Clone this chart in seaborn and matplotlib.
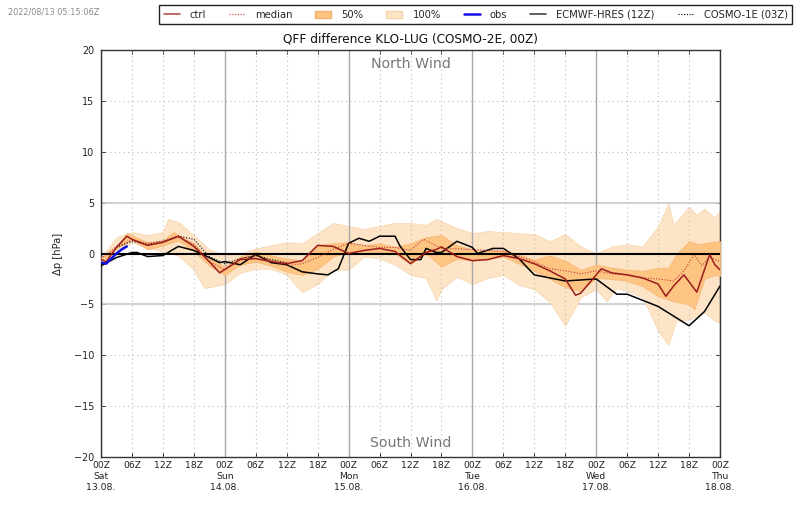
import matplotlib
matplotlib.use("Agg")
import matplotlib.pyplot as plt
from matplotlib.lines import Line2D
from matplotlib.patches import Patch
import numpy as np
import pandas as pd
import seaborn as sns

sns.set_theme(style="white")
plt.rcParams['font.family'] = ['DejaVu Sans']

title = "QFF difference KLO-LUG (COSMO-2E, 00Z)"
stamp = "2022/08/13 05:15:06Z"
x_labels = ["00Z", "06Z", "12Z", "18Z"]
day_labels = [("Sat", "13.08."), ("Sun", "14.08."), ("Mon", "15.08."), ("Tue", "16.08."), ("Wed", "17.08."), ("Thu", "18.08.")]

up100_h = [0,3,6,9,12,13,15,18,21,24,27,30,33,36,39,42,45,48,51,54,57,60,63,65,69,72,75,78,81,84,87,90,93,96,99,102,105,108,110,111,114,115.5,117,119,120]
up100 = [-0.4,1.6,2.1,1.8,2.1,3.4,3.1,1.8,0.4,-0.2,0.0,0.5,0.8,1.1,1.0,2.0,3.0,2.7,2.4,2.7,3.0,3.0,2.8,3.4,2.5,2.0,2.2,2.1,2.0,1.9,1.2,1.9,0.7,0.0,0.7,0.9,0.7,2.7,4.9,2.8,4.6,3.8,4.4,3.5,4.2]
lo100_h = [0,3,6,9,12,15,18,20,21,24,27,30,33,36,39,42,45,48,51,54,57,60,63,65,66,69,72,75,78,81,84,87,90,93,96,98,100,102,105,108,110,111.5,114,117,119,120]
lo100 = [-1.3,0.0,1.1,0.6,0.2,-0.2,-1.6,-3.4,-3.3,-3.0,-1.9,-1.5,-1.5,-2.1,-3.8,-3.0,-1.6,-1.6,-0.3,-0.5,-1.1,-2.1,-2.4,-4.6,-3.5,-2.3,-3.0,-2.4,-2.1,-3.1,-3.5,-4.8,-7.1,-4.3,-3.5,-4.7,-3.4,-3.7,-4.3,-7.6,-9.0,-6.6,-6.5,-5.8,-6.6,-6.8]
up50_h = [0,3,5,9,12,14,18,21,24,27,30,33,36,39,42,45,48,51,54,57,60,63,66,69,72,75,78,81,84,87,90,93,96,99,102,105,108,110,111.5,114,116,118,120]
up50 = [-0.4,0.7,2.0,1.1,1.3,2.1,1.0,-0.5,-1.3,-0.3,0.2,-0.2,-0.5,-0.7,0.8,1.0,1.1,0.8,1.0,0.65,1.0,1.6,1.8,0.8,0.4,0.3,0.3,-0.1,-0.6,-0.2,-0.7,-1.6,-1.1,-1.4,-1.6,-1.7,-1.4,-1.4,-0.1,1.2,0.9,1.1,1.2]
lo50_h = [0,3,6,9,12,15,18,21,24,27,30,33,36,39,42,45,48,51,54,57,60,63,66,69,72,75,78,81,84,87,90,93,96,99,102,105,108,111,114,115,117,119,120]
lo50 = [-0.8,0.5,1.4,0.4,0.8,1.3,0.2,-1.2,-2.1,-1.1,-0.8,-1.2,-1.8,-2.1,-1.5,-0.3,0.15,0.2,0.15,0.0,-1.0,0.0,-1.3,-0.5,-0.7,-0.5,-0.3,-1.0,-1.7,-2.5,-3.3,-3.7,-2.4,-2.5,-2.7,-3.2,-4.2,-4.7,-5.0,-5.5,-2.5,-2.1,-2.2]
ctrl_h = [0,1,3,5,6,9,12,15,18,21,23,27,30,33,36,39,42,45,48,51,54,57,60,63,65,66,69,72,75,78,81,84,87,90,92,93,97,99,102,105,108,109.5,111,113,115.5,118,119,120]
ctrl = [-0.6,-0.8,0.6,1.7,1.4,0.8,1.1,1.7,0.7,-0.8,-1.9,-0.6,-0.5,-0.8,-1.0,-0.7,0.8,0.7,0.0,0.3,0.5,0.2,-1.0,0.1,0.4,0.65,-0.3,-0.7,-0.6,-0.2,-0.5,-1.0,-1.7,-2.5,-4.1,-3.9,-1.5,-1.9,-2.1,-2.4,-3.0,-4.2,-3.2,-2.1,-3.8,-0.1,-1.1,-1.6]
median_h = [0,3,6,9,12,15,18,21,24,27,30,33,36,39,42,45,48,54,57,60,62.5,66,72,78,84,87,90,93,96,99,102,105,108,111,113,115,116.5,118,120]
median = [-0.5,0.7,1.3,1.0,1.2,1.6,0.9,-0.8,-1.6,-0.5,-0.2,-0.7,-1.2,-1.0,-0.4,0.4,1.0,0.6,0.6,0.3,1.4,0.5,0.4,0.2,-0.8,-1.5,-1.7,-2.0,-1.7,-2.0,-2.1,-2.4,-2.5,-2.7,-1.7,-0.1,-1.2,-0.3,-0.8]
ecmwf_h = [0,3,6,7,9,12,15,18,21,23,24,27,30,33,36,39,42,44,46,48,50,52,54,57,58,60,62,63,65,66,69,72,73,76,78,81,84,90,96,100,102,108,114,117,120]
ecmwf = [-1.2,-0.4,0.1,0.1,-0.3,-0.2,0.7,0.3,-0.4,-0.9,-0.8,-1.1,-0.1,-0.9,-1.1,-1.8,-2.0,-2.1,-1.5,1.0,1.5,1.2,1.7,1.7,0.7,-0.6,-0.6,0.5,0.1,0.1,1.2,0.6,0.0,0.5,0.5,-0.5,-2.1,-2.7,-2.5,-4.0,-4.0,-5.2,-7.1,-5.7,-3.2]
obs_h = [0,1,2,3,4,5]
obs = [-0.9,-1.0,-0.5,0.0,0.4,0.7]
cosmo1_h = [3,6,9,12,15,18,21,24,27,30,33,36]
cosmo1 = [0.6,1.2,0.9,1.2,1.7,1.4,-0.3,-1.0,-0.5,-0.2,-0.6,-0.9]

C50 = "#fdc482"
C100 = "#fde4c6"
fig = plt.figure(figsize=(8, 5.09), dpi=100)
ax = fig.add_axes([101/800, 1-457/509, 619/800, 407/509])


def band(hl, l, hu, u, color, ec, z):
    grid = np.array(sorted(set(hl) | set(hu)), dtype=float)
    ax.fill_between(grid, np.interp(grid, hl, l), np.interp(grid, hu, u),
                    facecolor=color, edgecolor=ec, linewidth=0.6, zorder=z)


band(lo100_h, lo100, up100_h, up100, C100, "#f7d8b4", 2)
band(lo50_h, lo50, up50_h, up50, C50, "#f8b878", 3)


def line(h, v, **kw):
    sns.lineplot(data=pd.DataFrame({"h": h, "v": v}), x="h", y="v", estimator=None,
                 sort=False, ax=ax, legend=False, **kw)


ax.axhline(0, color="black", lw=1.5, zorder=4)
line(ecmwf_h, ecmwf, color="black", lw=1.1, zorder=5)
line(cosmo1_h, cosmo1, color="black", lw=0.8, ls=(0, (1, 1.5)), zorder=5)
line(median_h, median, color="#c23a3a", lw=0.8, ls=(0, (1, 1.5)), zorder=6)
line(ctrl_h, ctrl, color="#9c1c1c", lw=1.1, zorder=6)
line(obs_h, obs, color="#1010e0", lw=1.8, zorder=7)

minor = np.arange(0, 121, 6)
ax.set_xlim(0, 120)
ax.set_ylim(-20, 20)
ax.set_xticks(minor)
ax.set_xticklabels([
    x_labels[(h // 6) % 4] + (f"\n{day_labels[h // 24][0]}\n{day_labels[h // 24][1]}" if h % 24 == 0 else "")
    for h in minor], fontsize=6.7, color="#222222", linespacing=1.3)
ax.set_yticks(np.arange(-20, 21, 5))
ax.tick_params(axis="y", labelsize=6.9, length=3, width=0.7, left=True, right=True, direction="in", pad=5, labelcolor="#222222")
ax.tick_params(axis="x", length=3, width=0.7, bottom=True, top=True, direction="in", pad=3)
for v in minor:
    if v % 24 == 0:
        ax.axvline(v, color="#a8a8a8", lw=1.0, zorder=2.5)
    else:
        ax.axvline(v, color="#bbbbbb", lw=0.8, ls=(0, (1, 3)), zorder=2.5)
for v in np.arange(-15, 20, 5):
    if abs(v) == 5:
        ax.axhline(v, color="#c8c8c8", lw=1.2, zorder=1)
    elif v:
        ax.axhline(v, color="#bbbbbb", lw=0.8, ls=(0, (1, 3)), zorder=1)
for s in ax.spines.values():
    s.set_color("#333333")
    s.set_linewidth(1.0)
ax.set_xlabel("")
ax.set_ylabel("Δp [hPa]", fontsize=7.2, color="#222222")
ax.yaxis.set_label_coords(-38/619, 0.5)
ax.set_title(title, fontsize=8.75, pad=5.5, color="#111111")
ax.text(60, 18.6, "North Wind", ha="center", va="center", fontsize=10.2, color="#777777")
ax.text(60, -18.6, "South Wind", ha="center", va="center", fontsize=10.2, color="#777777")
fig.text(8/800, 1-12/509, stamp, fontsize=5.9, color="#888888", va="center")

handles = [
    Line2D([], [], color="#b04040", lw=1.1),
    Line2D([], [], color="#c23a3a", lw=0.8, ls=(0, (1, 1.5))),
    Patch(facecolor=C50, edgecolor="#f0b070"),
    Patch(facecolor=C100, edgecolor="#f5d3ac"),
    Line2D([], [], color="#1010e0", lw=1.8),
    Line2D([], [], color="#333333", lw=1.1),
    Line2D([], [], color="black", lw=0.8, ls=(0, (1, 1.5))),
]
labels = ["ctrl", "median", "50%", "100%", "obs", "ECMWF-HRES (12Z)", "COSMO-1E (03Z)"]
leg = fig.legend(handles, labels, ncol=7, fontsize=7.2, loc="upper right",
                 bbox_to_anchor=(792/800, 1-5/509), frameon=True, fancybox=False,
                 edgecolor="#222222", columnspacing=2.3, handlelength=1.6, handletextpad=1.0,
                 borderpad=0.45, borderaxespad=0)
leg.get_frame().set_linewidth(1.0)
leg.get_frame().set_alpha(1)
fig.savefig("out.png", dpi=100)
